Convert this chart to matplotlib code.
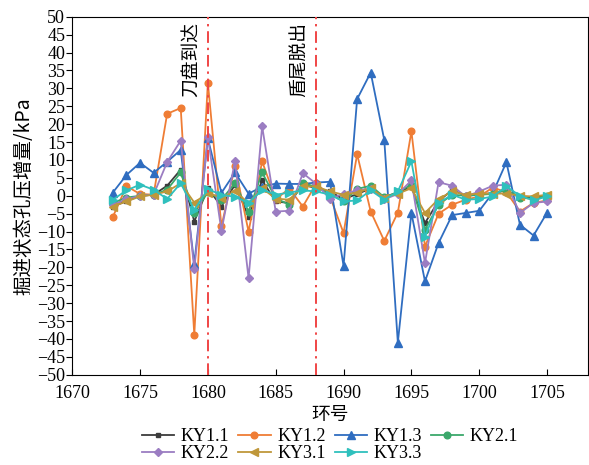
import matplotlib
matplotlib.use("Agg")
import matplotlib.pyplot as plt
import numpy as np

plt.rcParams['font.family'] = ['Liberation Serif', 'Noto Sans CJK SC']
plt.rcParams['axes.unicode_minus'] = True

rings = list(range(1673, 1706))

ky1_1 = [-3.0, -1.5, 0.0, 0.3, 2.8, 7.3, -7.2, 2.1, -3.0, 3.1, -5.8, 4.3, -1.6, -2.0, 3.1, 2.1,
         1.2, -1.0, 0.5, 2.0, -0.5, 1.0, 2.5, -7.6, -1.5, 1.6, 0.0, 0.3, 0.8, 1.5, -0.5, -0.5, 0.0]
ky1_2 = [-5.9, 2.7, 0.5, 0.3, 22.9, 24.5, -38.8, 31.6, -8.5, 8.2, -10.0, 9.6, -1.0, 2.0, -3.0, 3.5,
         -0.2, -10.4, 11.6, -4.4, -12.6, -4.7, 18.0, -14.2, -5.0, -2.5, -1.1, -0.2, 2.3, 1.0, -4.4, -2.0, -1.3]
ky1_3 = [0.9, 5.8, 9.2, 6.4, 9.5, 12.8, -19.0, 16.0, 0.8, 6.5, 0.6, 2.5, 3.4, 3.3, 3.3, 3.7,
         3.9, -19.6, 27.0, 34.4, 15.6, -41.0, -4.8, -23.9, -13.2, -5.4, -4.8, -4.2, 0.8, 9.4, -8.1, -11.1, -4.7]
ky2_1 = [-2.0, -0.5, 0.0, 0.3, 1.7, 6.5, -4.8, 1.0, -1.1, 3.5, -4.4, 6.5, -0.7, -2.5, 3.5, 2.5,
         0.5, -1.6, 1.9, 2.8, -0.4, 1.0, 3.1, -9.5, -2.5, 0.3, 0.0, 0.3, 0.5, 1.7, -0.5, -0.9, 0.0]
ky2_2 = [-2.5, -1.0, 0.0, 0.3, 9.4, 15.4, -20.5, 16.4, -9.8, 9.7, -23.0, 19.4, -4.4, -4.2, 6.3, 3.3,
         -0.9, 0.6, 1.5, 2.0, -1.0, 0.5, 4.3, -18.8, 3.8, 2.8, -0.2, 1.2, 2.8, 3.1, -4.8, -2.0, -1.6]
ky3_1 = [-3.0, -1.6, -0.2, 0.3, 1.2, 3.5, -1.9, 0.8, -0.5, 1.2, -2.0, 2.1, -0.8, -1.1, 2.6, 2.6,
         1.2, 0.3, 0.9, 2.1, -0.5, 0.6, 2.1, -4.8, -0.9, 1.2, 0.3, 0.6, 0.6, 0.6, 0.0, -0.2, 0.3]
ky3_3 = [-1.1, 1.5, 3.1, 1.7, -0.9, 3.5, -3.9, 1.8, 0.3, -0.3, -2.0, 1.7, 0.3, 0.9, 1.5, 1.2,
         0.3, -1.6, -1.3, 1.5, -1.1, 1.2, 9.6, -11.4, -2.0, 0.3, -1.1, -0.9, -0.2, 2.6, 0.0, -1.3, -0.2]

series = [
    ("KY1.1", ky1_1, "#3c3c3c", "s", 3.5),
    ("KY1.2", ky1_2, "#ef7d35", "o", 4.8),
    ("KY1.3", ky1_3, "#2f6dc0", "^", 5.2),
    ("KY2.1", ky2_1, "#3ba86b", "o", 4.8),
    ("KY2.2", ky2_2, "#9b7dc2", "D", 4.3),
    ("KY3.1", ky3_1, "#bf973a", "<", 5.2),
    ("KY3.3", ky3_3, "#2fc0bd", ">", 5.2),
]

event_rings = [1680, 1688]
event_labels = ["刀盘到达", "盾尾脱出"]

fig = plt.figure(figsize=(5.89, 4.65), dpi=100)
ax = fig.add_axes([0.1225, 0.194, 0.8755, 0.770])

handles = {}
for name, vals, color, marker, ms in series:
    line, = ax.plot(rings, vals, color=color, marker=marker, markersize=ms, linewidth=1.3, label=name)
    handles[name] = line

for r in event_rings:
    ax.axvline(r, color="#f04545", linewidth=1.4, linestyle=(0, (6, 2.5, 1.2, 2.5)), zorder=5)

cjk = ['Noto Sans CJK SC', 'DejaVu Sans']
for r, t in zip(event_rings, event_labels):
    ax.text(r - 0.45, 48.5, t, rotation=90, ha="right", va="top", fontsize=13.5, family=cjk)

ax.set_xlim(1670, 1708)
ax.set_ylim(-50, 50)
ax.set_xticks(np.arange(1670, 1706, 5))
ax.set_yticks(np.arange(-50, 51, 5))
ax.tick_params(axis="x", direction="in", labelsize=13, length=4, pad=7.0)
ax.tick_params(axis="y", direction="out", labelsize=13, length=4, pad=1)

ax.set_xlabel("环号", fontsize=13.5, family=cjk, labelpad=1.5)
ax.set_ylabel("掘进状态孔压增量/kPa", fontsize=14, family=cjk, labelpad=2)

# legend filled row by row: 4 entries on the first row, 3 on the second
order = ["KY1.1", "KY2.2", "KY1.2", "KY3.1", "KY1.3", "KY3.3", "KY2.1"]
ax.legend([handles[n] for n in order], order, loc="upper center", bbox_to_anchor=(0.5, -0.128),
          ncol=4, frameon=False, fontsize=13, handlelength=1.8, columnspacing=0.5,
          handletextpad=0.35, labelspacing=0.0, borderaxespad=0)

fig.savefig("out.png", dpi=100)
